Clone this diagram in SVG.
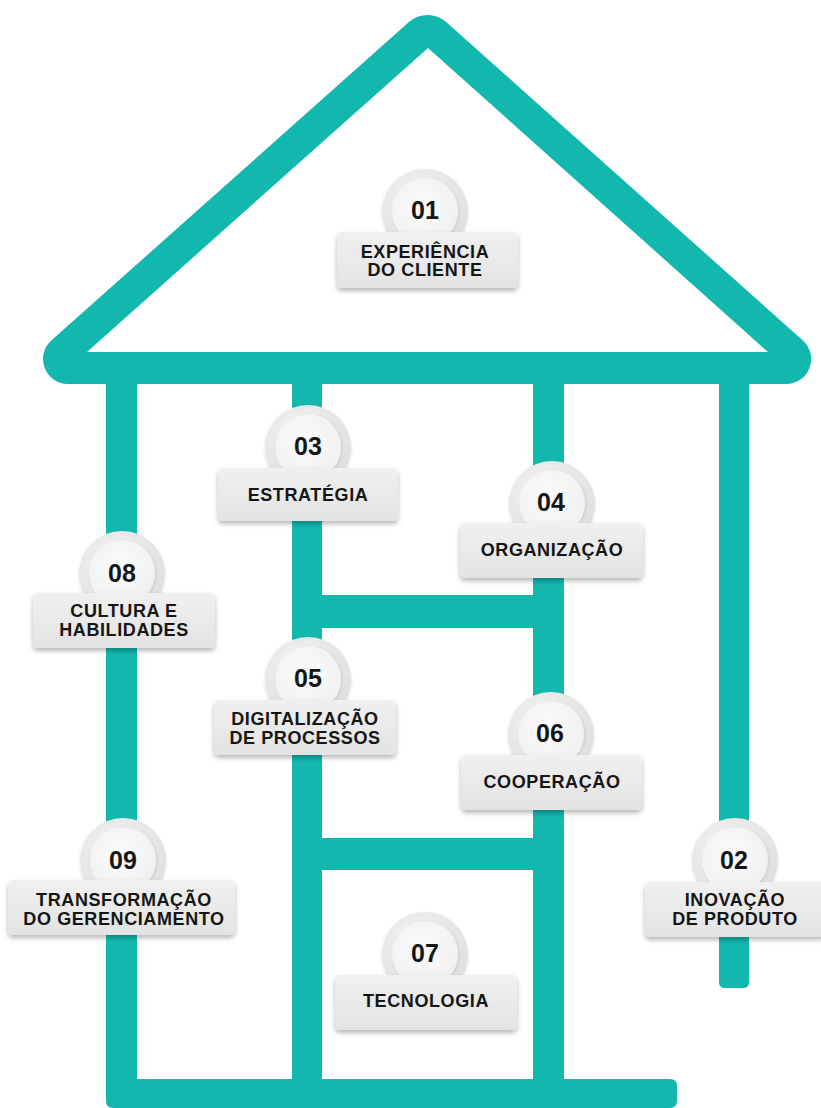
<svg xmlns="http://www.w3.org/2000/svg" width="821" height="1108" viewBox="0 0 821 1108">
<style>
.teal{fill:#12b8ae}
.num{font-family:"Liberation Sans",Arial,sans-serif;font-weight:bold;font-size:25px;fill:#151515;text-anchor:middle}
.lbl{font-family:"Liberation Sans",Arial,sans-serif;font-weight:bold;font-size:18px;fill:#151515;text-anchor:middle;letter-spacing:0.6px}
.box{fill:url(#gBox);filter:url(#shBox)}
.ring{fill:url(#gRing);filter:url(#shC)}
.disk{fill:url(#gDisk);filter:url(#shD)}
</style>
<defs>
<linearGradient id="gBox" x1="0" y1="0" x2="0" y2="1">
<stop offset="0" stop-color="#f0f0f0"/>
<stop offset="1" stop-color="#e3e3e3"/>
</linearGradient>
<radialGradient id="gRing" cx="0.4" cy="0.35" r="0.7">
<stop offset="0" stop-color="#f4f4f4"/>
<stop offset="1" stop-color="#dedede"/>
</radialGradient>
<radialGradient id="gDisk" cx="0.45" cy="0.4" r="0.7">
<stop offset="0" stop-color="#fbfbfb"/>
<stop offset="1" stop-color="#efefef"/>
</radialGradient>
<filter id="shBox" x="-10%" y="-20%" width="120%" height="170%">
<feDropShadow dx="0" dy="3" stdDeviation="2.5" flood-color="#000" flood-opacity="0.28"/>
</filter>
<filter id="shC" x="-20%" y="-20%" width="140%" height="140%">
<feDropShadow dx="0" dy="1" stdDeviation="1.5" flood-color="#000" flood-opacity="0.15"/>
</filter>
<filter id="shD" x="-20%" y="-20%" width="140%" height="140%">
<feDropShadow dx="1" dy="1" stdDeviation="1.5" flood-color="#000" flood-opacity="0.12"/>
</filter>
</defs>
<rect width="821" height="1108" fill="#ffffff"/>
<g id="house" class="teal">
<path fill-rule="evenodd" d="M51,340.7 L408.9,22.1 A28,28 0 0 1 446.2,22.1 L802.9,340.4 A25,25 0 0 1 786.2,384 L67.6,384 A25,25 0 0 1 51,340.7 Z M428,48 L87,352 L768,352 Z"/>
<path d="M106,380 H137 V1079 H670 Q677,1079 677,1086 V1101 Q677,1108 670,1108 H113 Q106,1108 106,1101 Z"/>
<rect x="292" y="380" width="30" height="710"/>
<rect x="533" y="380" width="31" height="710"/>
<path d="M719,380 H749 V982 Q749,988 743,988 H725 Q719,988 719,982 Z"/>
<rect x="300" y="595" width="250" height="33"/>
<rect x="300" y="838" width="250" height="32"/>
</g>
<g id="n01">
<circle class="ring" cx="425" cy="212" r="43"/>
<circle class="disk" cx="425" cy="211" r="33"/>
<rect class="box" x="337" y="232" width="181" height="56" rx="5"/>
<text class="num" x="425" y="219">01</text>
<text class="lbl" x="425" y="258">EXPERIÊNCIA</text>
<text class="lbl" x="425" y="276">DO CLIENTE</text>
</g>
<g id="n03">
<circle class="ring" cx="308" cy="448" r="43"/>
<circle class="disk" cx="308" cy="447" r="33"/>
<rect class="box" x="218" y="468" width="180" height="53" rx="5"/>
<text class="num" x="308" y="455">03</text>
<text class="lbl" x="308" y="501">ESTRATÉGIA</text>
</g>
<g id="n04">
<circle class="ring" cx="552" cy="504" r="43"/>
<circle class="disk" cx="552" cy="503" r="33"/>
<rect class="box" x="460" y="523" width="183" height="55" rx="5"/>
<text class="num" x="551" y="511">04</text>
<text class="lbl" x="552" y="556">ORGANIZAÇÃO</text>
</g>
<g id="n08">
<circle class="ring" cx="122" cy="574" r="43"/>
<circle class="disk" cx="122" cy="573" r="33"/>
<rect class="box" x="33" y="593" width="182" height="55" rx="5"/>
<text class="num" x="122" y="582">08</text>
<text class="lbl" x="124" y="617">CULTURA E</text>
<text class="lbl" x="124" y="636">HABILIDADES</text>
</g>
<g id="n05">
<circle class="ring" cx="308" cy="680" r="43"/>
<circle class="disk" cx="308" cy="679" r="33"/>
<rect class="box" x="214" y="700" width="182" height="55" rx="5"/>
<text class="num" x="308" y="687">05</text>
<text class="lbl" x="305" y="725">DIGITALIZAÇÃO</text>
<text class="lbl" x="305" y="744">DE PROCESSOS</text>
</g>
<g id="n06">
<circle class="ring" cx="551" cy="735" r="43"/>
<circle class="disk" cx="551" cy="734" r="33"/>
<rect class="box" x="461" y="755" width="181" height="55" rx="5"/>
<text class="num" x="550" y="742">06</text>
<text class="lbl" x="552" y="788">COOPERAÇÃO</text>
</g>
<g id="n09">
<circle class="ring" cx="123" cy="861" r="43"/>
<circle class="disk" cx="123" cy="860" r="33"/>
<rect class="box" x="8" y="880" width="227" height="55" rx="5"/>
<text class="num" x="123" y="869">09</text>
<text class="lbl" x="124" y="906">TRANSFORMAÇÃO</text>
<text class="lbl" x="124" y="925">DO GERENCIAMENTO</text>
</g>
<g id="n02">
<circle class="ring" cx="735" cy="861" r="43"/>
<circle class="disk" cx="735" cy="860" r="33"/>
<rect class="box" x="645" y="882" width="180" height="55" rx="5"/>
<text class="num" x="734" y="869">02</text>
<text class="lbl" x="735" y="906">INOVAÇÃO</text>
<text class="lbl" x="735" y="925">DE PRODUTO</text>
</g>
<g id="n07">
<circle class="ring" cx="425" cy="955" r="43"/>
<circle class="disk" cx="425" cy="954" r="33"/>
<rect class="box" x="335" y="975" width="182" height="55" rx="5"/>
<text class="num" x="425" y="962">07</text>
<text class="lbl" x="426" y="1007">TECNOLOGIA</text>
</g>
</svg>
